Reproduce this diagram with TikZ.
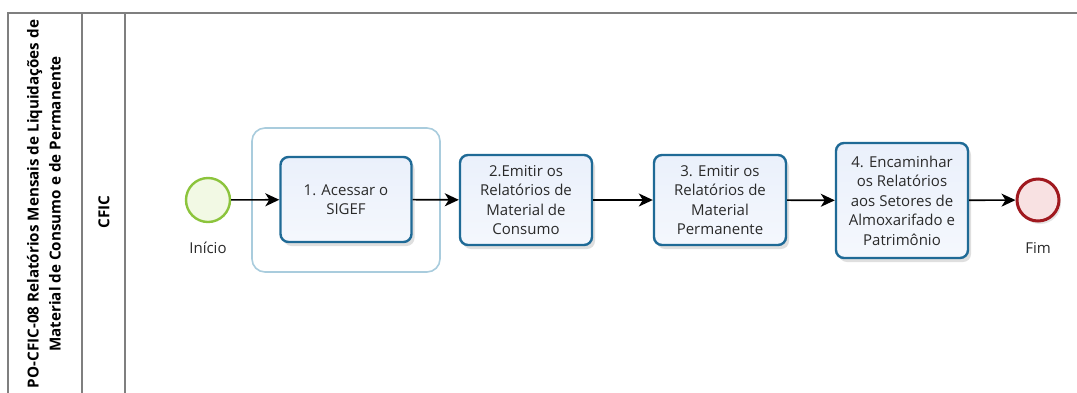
\documentclass[tikz,border=0pt]{standalone}
\usepackage{fontspec}
\setmainfont{Open Sans}
\usetikzlibrary{arrows.meta,shadows,positioning}
\definecolor{taskborder}{HTML}{1F6A96}
\definecolor{taskfill}{HTML}{EAF0FB}
\definecolor{grpborder}{HTML}{A9CCDD}
\definecolor{startborder}{HTML}{8CC43C}
\definecolor{startfill}{HTML}{F2F9E4}
\definecolor{endborder}{HTML}{A0191F}
\definecolor{endfill}{HTML}{F8E1E2}
\definecolor{framegray}{HTML}{7F7F7F}
\definecolor{txt}{HTML}{2A2A2A}
\tikzset{
  task/.style={draw=taskborder, line width=2.4pt, rounded corners=8pt, top color=taskfill, bottom color=white!50!taskfill,
    drop shadow={shadow xshift=3pt, shadow yshift=-4pt, opacity=0.25, fill=gray},
    align=center, font=\fontsize{15}{19.5}\selectfont, text=txt, inner sep=0pt},
  grp/.style={draw=grpborder, line width=1.6pt, rounded corners=13pt},
  startev/.style={circle, draw=startborder, line width=2.4pt, fill=startfill, minimum size=44pt, inner sep=0pt},
  endev/.style={circle, draw=endborder, line width=3pt, fill=endfill, minimum size=42pt, inner sep=0pt,
    drop shadow={shadow xshift=2pt, shadow yshift=-3pt, opacity=0.2, fill=gray}},
  evlabel/.style={font=\fontsize{15}{18}\selectfont, text=txt},
  flow/.style={-{Stealth[length=14pt,width=13pt,inset=4pt]}, line width=1.6pt, black},
  frame/.style={draw=framegray, line width=1.8pt},
  title/.style={font=\bfseries\fontsize{15.2}{22}\selectfont, align=center, rotate=90, text=black}
}
\begin{document}
\begin{tikzpicture}[x=1pt,y=-1pt]
\useasboundingbox (0,0) rectangle (1077,392);
\fill[white] (0,0) rectangle (1077,392);
\begin{scope}
\clip (0,0) rectangle (1077,392);
\draw[frame] (8,420) -- (8,13) -- (1090,13);
\draw[frame] (82,13) -- (82,420);
\draw[frame] (125,13) -- (125,420);
\end{scope}
\node[title] (pool) at (44,204) {PO-CFIC-08 Relatórios Mensais de Liquidações de\\Material de Consumo e de Permanente};
\node[title] (lane) at (104,212) {CFIC};

\node[grp, minimum width=188pt, minimum height=144pt] (grp) at (346,200) {};
\node[startev] (start) at (208,200) {};
\node[evlabel] (startlbl) at (208,248) {Início};
\node[task, minimum width=131pt, minimum height=85pt] (t1) at (346,199.5) {1. Acessar o\\SIGEF};
\node[task, minimum width=132pt, minimum height=90pt] (t2) at (526,200) {2.Emitir os\\Relatórios de\\Material de\\Consumo};
\node[task, minimum width=132pt, minimum height=90pt] (t3) at (720,200) {3. Emitir os\\Relatórios de\\Material\\Permanente};
\node[task, minimum width=132pt, minimum height=115pt] (t4) at (902,200.5) {4. Encaminhar\\os Relatórios\\aos Setores de\\Almoxarifado e\\Patrimônio};
\node[endev] (end) at (1038,200) {};
\node[evlabel] (endlbl) at (1038,248) {Fim};

\draw[flow] (start) -- (t1);
\draw[flow] (t1) -- (t2);
\draw[flow] (t2) -- (t3);
\draw[flow] (t3) -- (t4);
\draw[flow] (t4) -- (end);
\end{tikzpicture}
\end{document}
